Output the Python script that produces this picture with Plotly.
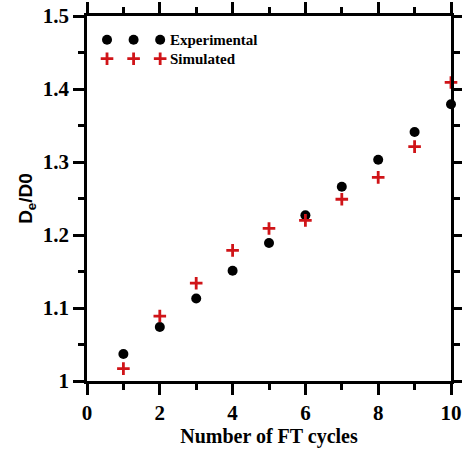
import plotly.graph_objects as go

cycles = [1, 2, 3, 4, 5, 6, 7, 8, 9, 10]
experimental = [1.037, 1.074, 1.113, 1.151, 1.189, 1.227, 1.266, 1.303, 1.341, 1.379]
simulated = [1.017, 1.089, 1.134, 1.179, 1.209, 1.220, 1.249, 1.279, 1.321, 1.409]
legend_labels = ["Experimental", "Simulated"]

RED = "#d01418"
FONT = "Liberation Serif"
SANS = "Liberation Sans"

fig = go.Figure()
fig.add_trace(go.Scatter(x=cycles, y=experimental, mode="markers",
                         marker=dict(symbol="circle", size=10, color="black"),
                         cliponaxis=False, showlegend=False))
fig.add_trace(go.Scatter(x=cycles, y=simulated, mode="markers",
                         marker=dict(symbol="cross-thin", size=9, color=RED,
                                     line=dict(color=RED, width=2.8)),
                         cliponaxis=False, showlegend=False))

# custom legend (three markers per entry) on an overlay axis
leg_x = [0.055, 0.128, 0.201]
fig.add_trace(go.Scatter(x=leg_x, y=[0.935] * 3, xaxis="x2", yaxis="y2", mode="markers",
                         marker=dict(symbol="circle", size=10, color="black"),
                         showlegend=False, hoverinfo="skip"))
fig.add_trace(go.Scatter(x=leg_x, y=[0.883] * 3, xaxis="x2", yaxis="y2", mode="markers",
                         marker=dict(symbol="cross-thin", size=9, color=RED,
                                     line=dict(color=RED, width=2.8)),
                         showlegend=False, hoverinfo="skip"))
for lbl, yy in zip(legend_labels, [0.935, 0.883]):
    fig.add_annotation(x=0.222, y=yy, xref="x2", yref="y2", text="<b>%s</b>" % lbl,
                       showarrow=False, xanchor="left", yanchor="middle",
                       font=dict(family=FONT, size=15, color="black"))

axis_common = dict(showline=True, linecolor="black", linewidth=2.5, mirror="ticks",
                   ticks="outside", ticklen=11, tickwidth=2.5, tickcolor="black",
                   showgrid=False, zeroline=False, automargin=False,
                   tickfont=dict(family=FONT, size=21, color="black"))

fig.update_layout(
    width=462, height=450,
    margin=dict(l=87, r=11, t=16, b=69),
    plot_bgcolor="white", paper_bgcolor="white",
    xaxis=dict(range=[0, 10], dtick=2, tick0=0,
               minor=dict(dtick=1, tick0=0, ticklen=6, tickwidth=2.5, ticks="outside", tickcolor="black"),
               title=dict(text="<b>Number of FT cycles</b>", font=dict(family=FONT, size=20, color="black"),
                          standoff=2),
               tickprefix="<b>", ticksuffix="</b>",
               **axis_common),
    yaxis=dict(range=[1, 1.5], dtick=0.1, tick0=1,
               minor=dict(dtick=0.05, tick0=1, ticklen=6, tickwidth=2.5, ticks="outside", tickcolor="black"),
               title=dict(text="<b>D<sub>e</sub>/D0</b>", font=dict(family=SANS, size=19, color="black"),
                          standoff=6),
               tickprefix="<b>", ticksuffix="</b>",
               **axis_common),
    xaxis2=dict(range=[0, 1], overlaying="x", visible=False, anchor="y2"),
    yaxis2=dict(range=[0, 1], overlaying="y", visible=False, anchor="x2"),
)

fig.write_html("out.html")
